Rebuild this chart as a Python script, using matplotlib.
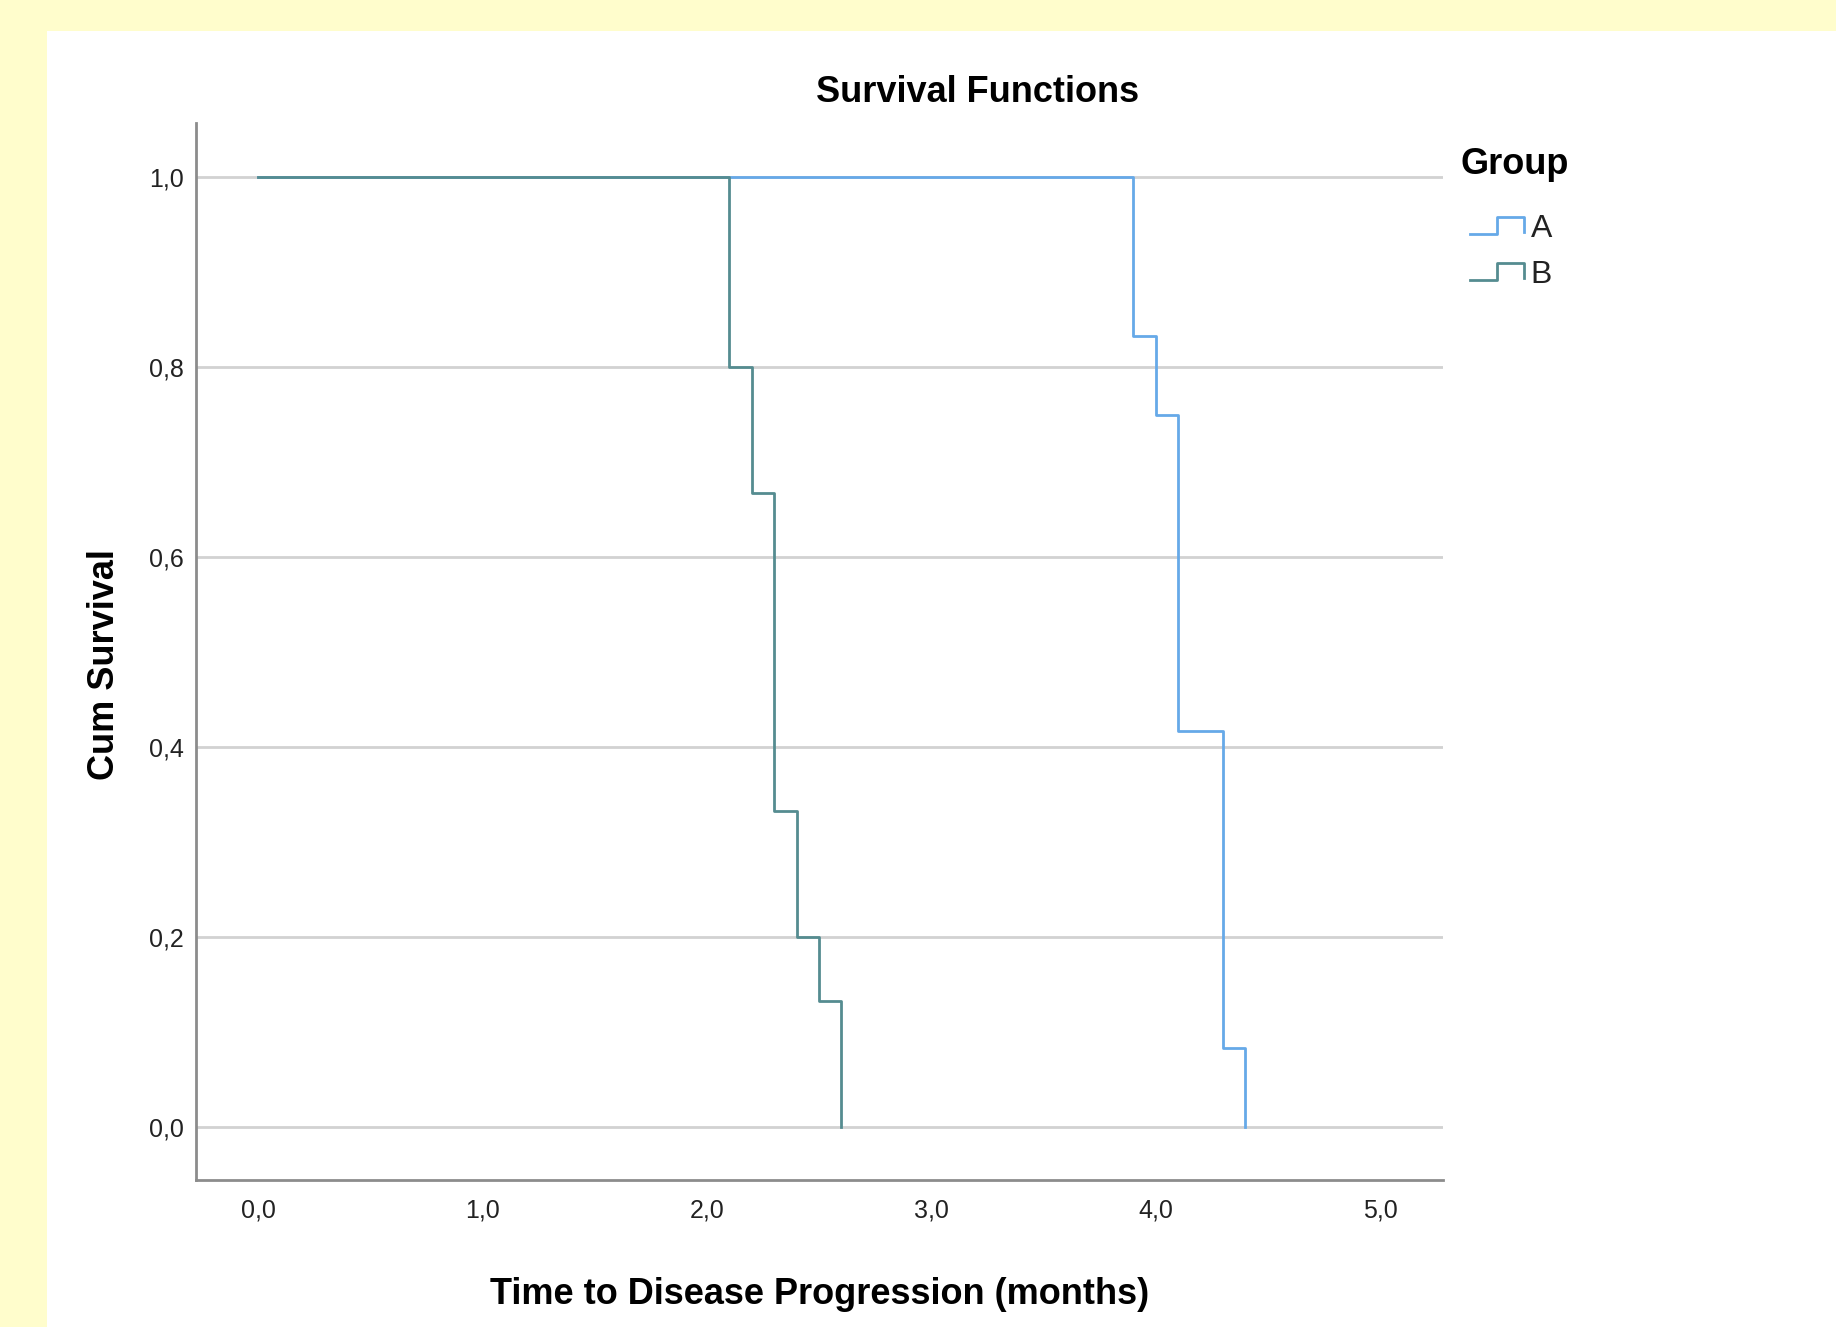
import matplotlib
matplotlib.use("Agg")
import matplotlib.pyplot as plt
from matplotlib.legend_handler import HandlerBase
from matplotlib.lines import Line2D
from matplotlib.patches import Rectangle
from matplotlib.ticker import FuncFormatter

# ---- data ----
groups = ["A", "B"]
times_A = [0.0, 3.9, 4.0, 4.1, 4.3, 4.4]
surv_A = [1.0, 0.833, 0.75, 0.417, 0.083, 0.0]
times_B = [0.0, 2.1, 2.2, 2.3, 2.4, 2.5, 2.6]
surv_B = [1.0, 0.8, 0.667, 0.333, 0.2, 0.133, 0.0]
x_ticks = [0, 1, 2, 3, 4, 5]
y_ticks = [0.0, 0.2, 0.4, 0.6, 0.8, 1.0]

plt.rcParams["font.family"] = ["Liberation Sans", "DejaVu Sans"]

BIG = 26
TICK = 18
LEGF = 23

W, H = 1836, 1327
fig = plt.figure(figsize=(W / 100, H / 100), dpi=100)
fig.patch.set_facecolor("#FFFDCC")
fig.patches.append(Rectangle((47 / W, 0), 1 - 47 / W, 1 - 31 / H,
                             transform=fig.transFigure, facecolor="white",
                             edgecolor="none", zorder=-10))

L, R, T, B = 196, 1443, 123, 1180
ax = fig.add_axes([L / W, 1 - B / H, (R - L) / W, (B - T) / H])
ax.set_facecolor("none")

col_A = "#66A9E8"
col_B = "#558C90"
ax.step(times_A, surv_A, where="post", color=col_A, lw=2.0, zorder=3)
ax.step(times_B, surv_B, where="post", color=col_B, lw=2.0, zorder=4)

ax.set_xlim(-0.276, 5.28)
ax.set_ylim(-0.056, 1.057)
ax.set_xticks(x_ticks)
ax.set_yticks(y_ticks)
fmt = FuncFormatter(lambda v, p: f"{v:.1f}".replace(".", ","))
ax.xaxis.set_major_formatter(fmt)
ax.yaxis.set_major_formatter(fmt)
ax.tick_params(axis="both", length=0, labelsize=TICK, labelcolor="#222222")
ax.tick_params(axis="y", pad=9)
ax.tick_params(axis="x", pad=13)

ax.yaxis.grid(True, color="#d2d2d2", lw=2.0, zorder=1)
ax.xaxis.grid(False)
ax.set_axisbelow(True)
for s in ["top", "right"]:
    ax.spines[s].set_visible(False)
for s in ["left", "bottom"]:
    ax.spines[s].set_color("#8c8c8c")
    ax.spines[s].set_linewidth(2.0)

ax.set_xlabel("Time to Disease Progression (months)", fontsize=BIG, fontweight="bold")
ax.xaxis.label.set_va("center")
ax.xaxis.set_label_coords((820 - L) / (R - L), (B - 1294) / (B - T))
ax.set_ylabel("Cum Survival", fontsize=BIG, fontweight="bold")
ax.yaxis.label.set_va("center")
ax.yaxis.set_label_coords((104 - L) / (R - L), (B - 665) / (B - T))

fig.text(978 / W, 1 - 92 / H, "Survival Functions", fontsize=BIG,
         fontweight="bold", ha="center", va="center")


class StepHandler(HandlerBase):
    def create_artists(self, legend, orig_handle, xdescent, ydescent,
                       width, height, fontsize, trans):
        x0 = -xdescent
        y0 = -ydescent
        xs = [x0, x0 + 0.5 * width, x0 + 0.5 * width, x0 + width, x0 + width]
        ys = [y0 + 0.05 * height, y0 + 0.05 * height, y0 + 0.95 * height,
              y0 + 0.95 * height, y0 + 0.15 * height]
        ln = Line2D(xs, ys, color=orig_handle.get_color(), lw=2.0,
                    transform=trans)
        return [ln]


handles = [Line2D([], [], color=col_A), Line2D([], [], color=col_B)]
fig.text(1460 / W, 1 - 165 / H, "Group", fontsize=BIG, fontweight="bold",
         ha="left", va="center")
leg = fig.legend(handles, groups, loc="upper left",
                 bbox_to_anchor=(1470 / W, 1 - 214 / H), frameon=False,
                 fontsize=LEGF, handlelength=1.7, handleheight=0.55,
                 handletextpad=0.2, labelspacing=0.5, borderpad=0,
                 borderaxespad=0,
                 handler_map={Line2D: StepHandler()})
for t in leg.get_texts():
    t.set_color("#222222")

fig.savefig("out.png", dpi=100, facecolor=fig.get_facecolor())
